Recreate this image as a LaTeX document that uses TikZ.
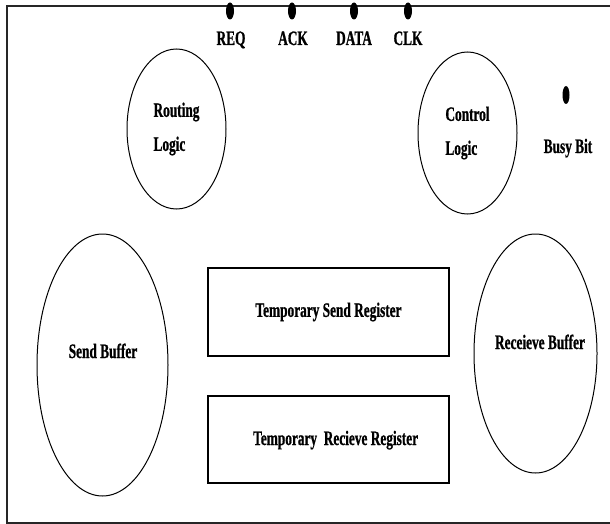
\documentclass[tikz,border=0pt]{standalone}
\usepackage{fontspec}
\newfontfamily\diagfont{Liberation Serif}[FakeStretch=0.65, FakeBold=0.8]
\usetikzlibrary{shapes.geometric}

\tikzset{
  blob/.style={draw, ellipse, line width=1pt, inner sep=0pt, align=left},
  regbox/.style={draw, rectangle, line width=2pt, inner sep=0pt},
  sigdot/.style={fill, ellipse, inner sep=0pt, minimum width=8, minimum height=17},
  lbl/.style={font=\diagfont\bfseries\fontsize{20.5}{34}\selectfont, inner sep=0pt}
}

\begin{document}
\begin{tikzpicture}[x=1pt, y=-1pt]
    \useasboundingbox (0,0) rectangle (610,524);
    \draw[line width=1.5pt, black!85] (610,6) -- (7,6) -- (7,523) -- (610,523);

    \node[sigdot] (req) at (230,11) {};
    \node[sigdot] (ack) at (292,11) {};
    \node[sigdot] (data) at (354,11) {};
    \node[sigdot] (clk) at (408,11) {};
    \node[lbl, anchor=base] (reqlbl) at (231,45) {REQ};
    \node[lbl, anchor=base] (acklbl) at (293,45) {ACK};
    \node[lbl, anchor=base] (datalbl) at (354,45) {DATA};
    \node[lbl, anchor=base] (clklbl) at (408,45) {CLK};

    \node[blob, lbl, minimum width=99, minimum height=160] (routing) at (176.5,129) {Routing\\Logic};
    \node[blob, lbl, minimum width=99, minimum height=162] (control) at (467.5,133) {Control\\Logic};

    \node[sigdot, minimum width=7, minimum height=18] (busy) at (566,95) {};
    \node[lbl, anchor=base] (busylbl) at (568,153) {Busy Bit};

    \node[blob, minimum width=131, minimum height=262] (sendbuf) at (102.5,365) {};
    \node[lbl, anchor=base] (sendlbl) at (103,358) {Send Buffer};
    \node[blob, minimum width=123, minimum height=239] (recvbuf) at (535.5,353.5) {};
    \node[lbl, anchor=base] (recvlbl) at (540,349) {Receieve Buffer};

    \node[regbox, lbl, minimum width=241, minimum height=88] (sendreg) at (328.5,312) {Temporary Send Register};
    \node[regbox, minimum width=241, minimum height=87] (recvreg) at (328.5,439.5) {};
    \node[lbl, anchor=base west] (recvreglbl) at (253,445) {Temporary\ \ Recieve Register};
\end{tikzpicture}
\end{document}
